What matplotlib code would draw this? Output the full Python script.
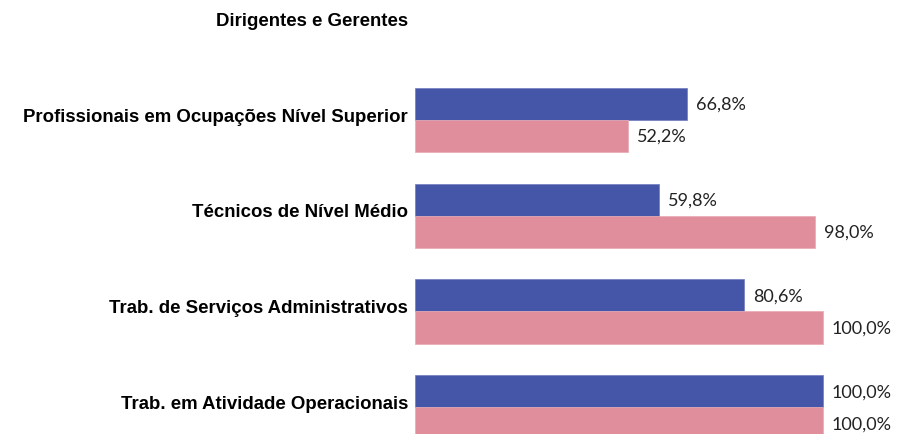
import numpy as np
import matplotlib.pyplot as plt

categories = [
    "Dirigentes e Gerentes",
    "Profissionais em Ocupações Nível Superior",
    "Técnicos de Nível Médio",
    "Trab. de Serviços Administrativos",
    "Trab. em Atividade Operacionais",
]
serie_azul = [np.nan, 66.8, 59.8, 80.6, 100.0]
serie_rosa = [np.nan, 52.2, 98.0, 100.0, 100.0]

cor_azul = "#4555A8"
cor_rosa = "#E08E9C"

fig = plt.figure(figsize=(9, 4.35), dpi=100)
ax = fig.add_axes([415 / 900, 0, 1 - 415 / 900, 1])

y = np.arange(len(categories))
h = 0.335

for i, (a, r) in enumerate(zip(serie_azul, serie_rosa)):
    if not np.isnan(a):
        ax.barh(i - h / 2, a, height=h, color=cor_azul, edgecolor="#6f7cc0", linewidth=0.5)
        ax.text(a + 2.2, i - h / 2, f"{a:.1f}%".replace(".", ","),
                va="center", ha="left", fontsize=13, family="Lato", color="#222222")
    if not np.isnan(r):
        ax.barh(i + h / 2, r, height=h, color=cor_rosa, edgecolor="#e8a9b3", linewidth=0.5)
        ax.text(r + 2.2, i + h / 2, f"{r:.1f}%".replace(".", ","),
                va="center", ha="left", fontsize=13, family="Lato", color="#222222")

ax.set_xlim(0, 118.9)
ax.set_ylim(4.28, -0.264)
ax.set_yticks(y - 0.06)
ax.set_yticklabels(categories, fontsize=13.4, fontweight="bold", family="Liberation Sans")
ax.tick_params(axis="y", length=0, pad=5)
ax.set_xticks([])
for s in ax.spines.values():
    s.set_visible(False)

fig.savefig("out.png", dpi=100)
